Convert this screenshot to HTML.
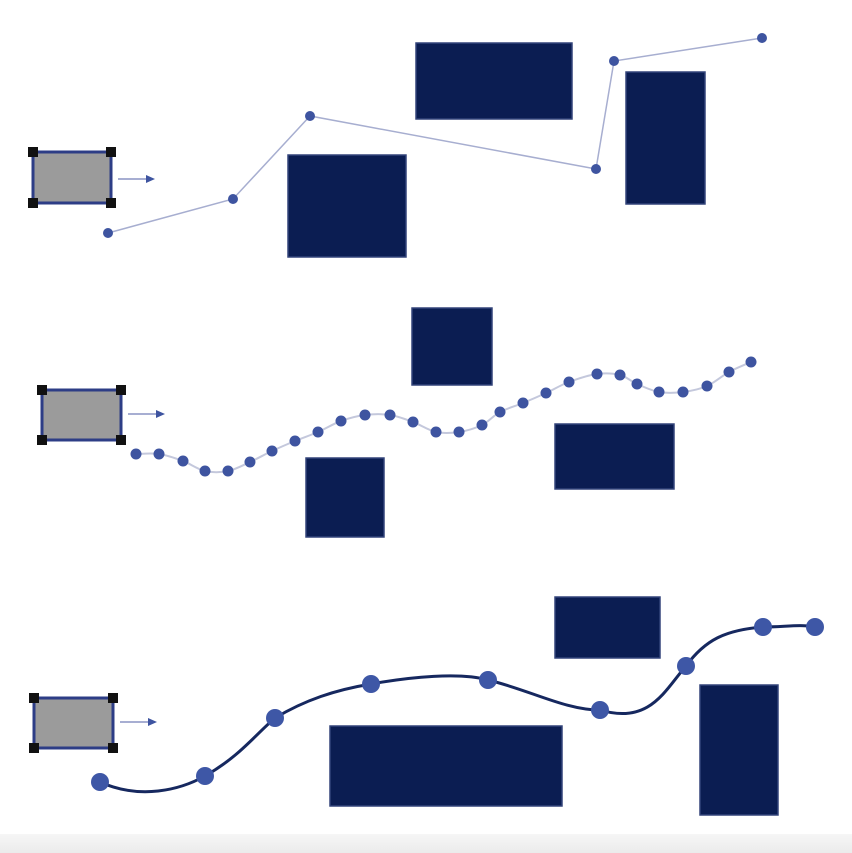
<!DOCTYPE html>
<html><head><meta charset="utf-8"><style>
html,body{margin:0;padding:0;background:#fff;width:852px;height:853px;overflow:hidden}
svg{display:block}
</style></head><body>
<svg id="s" width="852" height="853" viewBox="0 0 852 853" xmlns="http://www.w3.org/2000/svg">
<defs>
<linearGradient id="g" x1="0" y1="0" x2="0" y2="1"><stop offset="0" stop-color="#f6f6f6"/><stop offset="1" stop-color="#ebebeb"/></linearGradient>
</defs>
<rect x="0" y="834" width="852" height="19" fill="url(#g)"/>
<g fill="#0b1d52" stroke="#33447a" stroke-width="1.5">
<rect x="416" y="43" width="156" height="76"/>
<rect x="288" y="155" width="118" height="102"/>
<rect x="626" y="72" width="79" height="132"/>
<rect x="412" y="308" width="80" height="77"/>
<rect x="306" y="458" width="78" height="79"/>
<rect x="555" y="424" width="119" height="65"/>
<rect x="555" y="597" width="105" height="61"/>
<rect x="330" y="726" width="232" height="80"/>
<rect x="700" y="685" width="78" height="130"/>
</g>
<g id="srcs"></g>
<polyline points="108,233 233,199 310,116 596,169 614,61 762,38" fill="none" stroke="#a7aed0" stroke-width="1.5"/>
<g id="top" fill="#3e54a0"></g>
<path id="mid" fill="none" stroke="#c4c8dc" stroke-width="2"/>
<g id="midd" fill="#3e54a0"></g>
<path id="bot" fill="none" stroke="#16285f" stroke-width="3"/>
<g id="botd" fill="#3e57a6"></g>
</svg>
<script>
var NS="http://www.w3.org/2000/svg";
function el(p,t,a){var e=document.createElementNS(NS,t);for(var k in a)e.setAttribute(k,a[k]);document.getElementById(p).appendChild(e);return e;}
function cr(P,f){var d="M"+P[0][0]+","+P[0][1];for(var i=0;i<P.length-1;i++){var p0=P[i-1]||P[i],p1=P[i],p2=P[i+1],p3=P[i+2]||P[i+1];
d+=" C"+(p1[0]+(p2[0]-p0[0])/f)+","+(p1[1]+(p2[1]-p0[1])/f)+" "+(p2[0]-(p3[0]-p1[0])/f)+","+(p2[1]-(p3[1]-p1[1])/f)+" "+p2[0]+","+p2[1];}return d;}
[[108,233],[233,199],[310,116],[596,169],[614,61],[762,38]].forEach(function(p){el("top","circle",{cx:p[0],cy:p[1],r:5});});
var M=[[136,454],[159,454],[183,461],[205,471],[228,471],[250,462],[272,451],[295,441],[318,432],[341,421],[365,415],[390,415],[413,422],[436,432],[459,432],[482,425],[500,412],[523,403],[546,393],[569,382],[597,374],[620,375],[637,384],[659,392],[683,392],[707,386],[729,372],[751,362]];
document.getElementById("mid").setAttribute("d",cr(M,6));
M.forEach(function(p){el("midd","circle",{cx:p[0],cy:p[1],r:5.5});});
var B=[[100,782],[205,776],[275,718],[371,684],[488,680],[600,710],[686,666],[763,627],[815,627]];
var d="M100,782 C140,800 180,790 205,776 C240,756 255,735 275,718 C305,700 335,690 371,684 C410,677 460,672 488,680 C530,690 565,710 600,710 C650,725 665,690 686,666 C705,640 725,630 763,627 C785,627 800,624 815,627";
document.getElementById("bot").setAttribute("d",d);
B.forEach(function(p){el("botd","circle",{cx:p[0],cy:p[1],r:9});});
[[33,152,78,51,179],[42,390,79,50,414],[34,698,79,50,722]].forEach(function(s){
var x=s[0],y=s[1],w=s[2],h=s[3];
el("srcs","rect",{x:x,y:y,width:w,height:h,fill:"#9b9b9b",stroke:"#2d3d86","stroke-width":3});
[[x,y],[x+w,y],[x,y+h],[x+w,y+h]].forEach(function(c){el("srcs","rect",{x:c[0]-5,y:c[1]-5,width:10,height:10,fill:"#111"});});
el("srcs","line",{x1:x+w+7,y1:s[4],x2:x+w+37,y2:s[4],stroke:"#8a94c4","stroke-width":1.5});
el("srcs","polygon",{points:(x+w+44)+","+s[4]+" "+(x+w+35)+","+(s[4]-4)+" "+(x+w+35)+","+(s[4]+4),fill:"#3e54a0"});
});
</script>
</body></html>
